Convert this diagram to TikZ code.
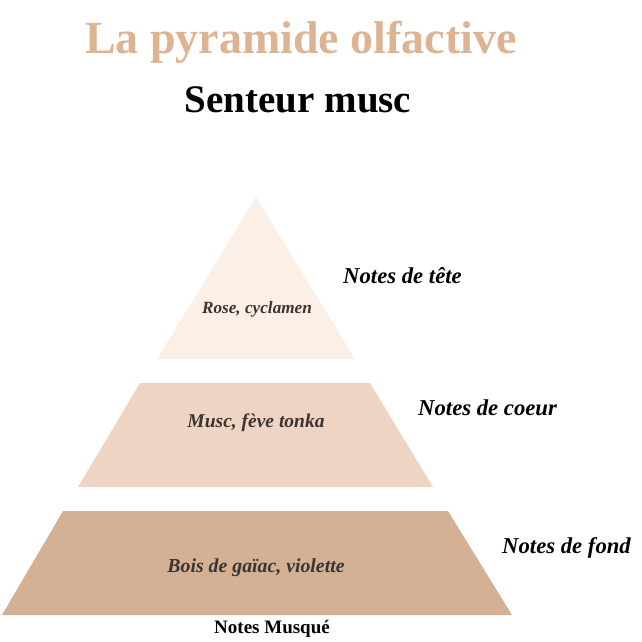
\documentclass[tikz,border=0pt]{standalone}
\usepackage{fontspec}
\setmainfont{Liberation Serif}
\usepackage{tikz}
\usetikzlibrary{positioning}
\definecolor{tanTitle}{HTML}{DDB493}
\definecolor{tierTop}{HTML}{FCEFE6}
\definecolor{tierMid}{HTML}{EED5C3}
\definecolor{tierBase}{HTML}{D4B094}
\definecolor{inkNote}{HTML}{3B3431}

\begin{document}
\begin{tikzpicture}[
    x=1pt, y=-1pt,
    title/.style={anchor=base, inner sep=0pt, font=\bfseries\fontsize{46}{55}\selectfont, text=tanTitle},
    subtitle/.style={anchor=base, inner sep=0pt, font=\bfseries\fontsize{39}{46}\selectfont, text=black},
    inside/.style={anchor=base, inner sep=0pt, font=\bfseries\itshape\fontsize{#1}{22}\selectfont, text=inkNote},
    inside/.default=17,
    side/.style={anchor=base west, inner sep=0pt, font=\bfseries\itshape\fontsize{22.7}{27}\selectfont, text=black},
    foot/.style={anchor=base, inner sep=0pt, font=\bfseries\fontsize{19}{23}\selectfont, text=black}
]
\useasboundingbox (0,0) rectangle (642,642);
% heading
\node[title] (heading) at (301,53) {La pyramide olfactive};
\node[subtitle] (scent) at (298,112) {Senteur musc};
% pyramid tiers, top to bottom
\fill[tierTop]  (256,197) -- (355,359) -- (157,359) -- cycle;
\fill[tierMid]  (140,383) -- (370,383) -- (433,487) -- (78,487) -- cycle;
\fill[tierBase] (63,511) -- (448,511) -- (512,615) -- (2,615) -- cycle;
% notes inside the tiers
\node[inside=17.2] (top) at (257,313) {Rose, cyclamen};
\node[inside=19.5] (heart) at (256,427) {Musc, fève tonka};
\node[inside=19.8] (base) at (256,572) {Bois de gaïac, violette};
% tier names on the right
\node[side] (topName) at (343,283) {Notes de tête};
\node[side] (heartName) at (418,415) {Notes de coeur};
\node[side] (baseName) at (502,553) {Notes de fond};
\node[foot] (family) at (272,633) {Notes Musqué};
\end{tikzpicture}
\end{document}
